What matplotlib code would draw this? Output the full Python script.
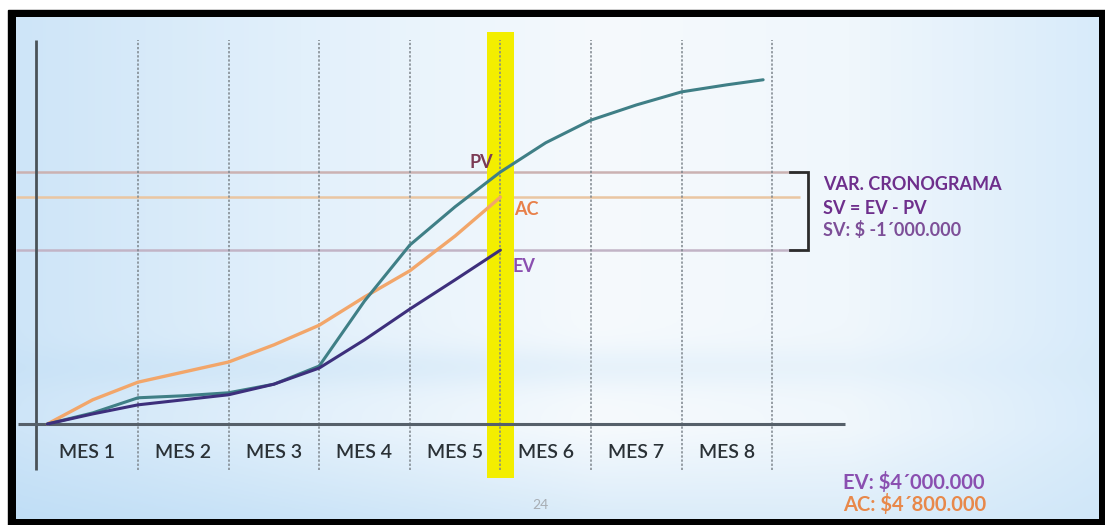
import numpy as np
import matplotlib.pyplot as plt
from matplotlib.patches import Rectangle

plt.rcParams['font.family'] = ['Lato', 'DejaVu Sans']

# months (0 = project start, k = end of month k)
months = [0, 0.5, 1, 1.5, 2, 2.5, 3, 3.5, 4, 4.5, 5, 5.5, 6, 6.5, 7, 7.5, 7.9]
pv = [0, 0.22, 0.52, 0.56, 0.62, 0.79, 1.15, 2.44, 3.55, 4.31, 5.0,
      5.58, 6.03, 6.33, 6.59, 6.73, 6.83]
ac_months = months[:11]
ac = [0, 0.48, 0.83, 1.03, 1.23, 1.57, 1.96, 2.52, 3.04, 3.73, 4.5]
ev_months = months[:11]
ev = [0, 0.20, 0.38, 0.48, 0.58, 0.79, 1.11, 1.67, 2.28, 2.86, 3.45]

month_labels = ['MES 1', 'MES 2', 'MES 3', 'MES 4', 'MES 5', 'MES 6', 'MES 7', 'MES 8']
cutoff = 5

pv_cut = pv[months.index(cutoff)]
ac_cut = ac[-1]
ev_cut = ev[-1]

c_pv = '#3f7f86'
c_ac = '#f2a66a'
c_ev = '#3d2f7c'

W, H = 1105, 525
fig = plt.figure(figsize=(W / 100, H / 100), dpi=100)
fig.patch.set_facecolor('white')

# black frame
fig.add_artist(Rectangle((8 / W, 0), 1 - 8 / W, 1 - 10 / H,
                         transform=fig.transFigure, color='black', zorder=0))

# plot area = slide interior
x0, x1, y0, y1 = 16, 1099, 17, 519
ax = fig.add_axes([x0 / W, 1 - y1 / H, (x1 - x0) / W, (y1 - y0) / H])
px_per_month = 90.6
px_per_unit = 50.4
xlim = (1 + (x0 - 138) / px_per_month, 1 + (x1 - 138) / px_per_month)
ylim = ((424 - y1) / px_per_unit, (424 - y0) / px_per_unit)
ax.set_xlim(xlim)
ax.set_ylim(ylim)
ax.axis('off')

# slide background: pale blue with a whiter centre and a soft band
gx = np.linspace(x0, x1, 400)
gy = np.linspace(y0, y1, 200)
X, Y = np.meshgrid(gx, gy)
stops_x = [16, 300, 600, 850, 1099]
stops_c = np.array([[206, 229, 248], [226, 240, 251], [246, 250, 253],
                    [240, 247, 252], [216, 235, 250]]) / 255
img = np.stack([np.interp(X, stops_x, stops_c[:, i]) for i in range(3)], axis=-1)
band = 0.55 * np.exp(-((Y - 368) / 22) ** 2) * (1 - X / 1300)
bottom = np.clip((Y - 430) / 90, 0, 1) * 0.7 * (1 - 0.6 * X / W)
blue1 = np.array([198, 225, 246]) / 255
blue2 = np.array([186, 219, 245]) / 255
img = img * (1 - band[..., None]) + blue1 * band[..., None]
img = img * (1 - bottom[..., None]) + blue2 * bottom[..., None]
ax.imshow(img, extent=(xlim[0], xlim[1], ylim[0], ylim[1]), aspect='auto',
          origin='upper', zorder=0)

axis_x = 1 + (36 - 138) / px_per_month
top_v, bot_v = (424 - 40) / px_per_unit, (424 - 470) / px_per_unit

# reference levels at the cut-off
line_end = 1 + (800 - 138) / px_per_month
ax.hlines(pv_cut, xlim[0], line_end, color='#cbb2b2', lw=1.8, zorder=1)
ax.hlines(ac_cut, xlim[0], line_end, color='#eac6a2', lw=1.8, zorder=1)
ax.hlines(ev_cut, xlim[0], line_end, color='#c2b4c6', lw=1.8, zorder=1)

# status date band
ax.add_patch(Rectangle((cutoff - 0.145, (424 - 478) / px_per_unit), 0.29,
                       (478 - 32) / px_per_unit, color='#f3ee00', lw=0, zorder=2))

# month dividers
for k in range(1, 9):
    ax.vlines(k, bot_v, top_v, color='#7d858c', lw=1.1, linestyles=(0, (1.5, 1.2)), zorder=3)

# axes lines
ax.vlines(axis_x, bot_v, top_v, color='#4a5258', lw=2.0, zorder=3)
ax.hlines(0, 1 + (18 - 138) / px_per_month, 1 + (845 - 138) / px_per_month,
          color='#56606a', lw=2.2, zorder=3)

# curves
ax.plot(ac_months, ac, color=c_ac, lw=2.4, solid_capstyle='round', zorder=4)
ax.plot(months, pv, color=c_pv, lw=2.2, solid_capstyle='round', zorder=5)
ax.plot(ev_months, ev, color=c_ev, lw=2.2, solid_capstyle='round', zorder=5)

# month labels centred between dividers
edges = [axis_x] + list(range(1, 9))
for i, lab in enumerate(month_labels):
    ax.text((edges[i] + edges[i + 1]) / 2, (424 - 452) / px_per_unit, lab,
            ha='center', va='center', fontsize=14, fontweight='semibold',
            color='#2a3136', zorder=6)

# curve labels at the cut-off
ax.annotate('PV', (cutoff, pv_cut), xytext=(-14, 7), textcoords='offset points',
            ha='center', va='center', fontsize=13, fontweight='bold', color='#7c3b55', zorder=6)
ax.annotate('AC', (cutoff, ac_cut), xytext=(19, -9), textcoords='offset points',
            ha='center', va='center', fontsize=13, fontweight='bold', color='#e8804a', zorder=6)
ax.annotate('EV', (cutoff, ev_cut), xytext=(17, -11.5), textcoords='offset points',
            ha='center', va='center', fontsize=13, fontweight='bold', color='#8a4fb0', zorder=6)

# schedule variance bracket
bx = 1 + (808 - 138) / px_per_month
bt = 1 + (790 - 138) / px_per_month
ax.plot([bt, bx, bx, bt], [pv_cut, pv_cut, ev_cut, ev_cut], color='#2c2c2c', lw=2.0,
        solid_joinstyle='miter', zorder=6)

tx = 1 + (823 - 138) / px_per_month
for py, s, col in [(185, 'VAR. CRONOGRAMA', '#6e2f8c'),
                   (208, 'SV = EV - PV', '#6e2f8c'),
                   (230, 'SV: $ -1´000.000', '#7d4f98')]:
    ax.text(tx, (424 - py) / px_per_unit, s, ha='left', va='center', fontsize=13,
            fontweight='bold', color=col, zorder=6)

vx = 1 + (843 - 138) / px_per_month
ax.text(vx, (424 - 482) / px_per_unit, 'EV: $4´000.000', ha='left', va='center',
        fontsize=14.5, fontweight='bold', color='#8a4fb0', zorder=6)
ax.text(vx, (424 - 505) / px_per_unit, 'AC: $4´800.000', ha='left', va='center',
        fontsize=14.5, fontweight='bold', color='#e8884a', zorder=6)

ax.text(1 + (540 - 138) / px_per_month, (424 - 505) / px_per_unit, '24',
        ha='center', va='center', fontsize=10, color='#a8aeb4', zorder=6)

fig.savefig('out.png', dpi=100)
